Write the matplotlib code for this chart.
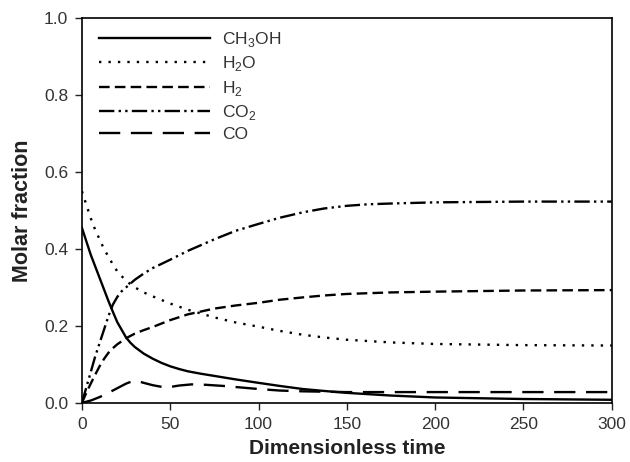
import numpy as np
import matplotlib.pyplot as plt

plt.rcParams["font.family"] = ["Liberation Sans", "DejaVu Sans"]
plt.rcParams["mathtext.fontset"] = "custom"
plt.rcParams["mathtext.rm"] = "Liberation Sans"

# Values
t_ch3oh = [0, 2.5, 5, 7.5, 10, 12.5, 15, 17.5, 20, 22.5, 25, 27.5, 30, 35, 40, 45,
           50, 55, 60, 67, 75, 87, 100, 112, 125, 137, 150, 175, 200, 225, 250,
           275, 300]
ch3oh = [0.455, 0.42, 0.385, 0.355, 0.325, 0.295, 0.265, 0.237, 0.21, 0.19, 0.17,
         0.156, 0.145, 0.128, 0.115, 0.104, 0.095, 0.088, 0.082, 0.076, 0.07,
         0.061, 0.052, 0.044, 0.036, 0.031, 0.026, 0.019, 0.014, 0.012, 0.010,
         0.009, 0.008]

t_h2o = [0, 2.5, 5, 7.5, 10, 12.5, 15, 17.5, 20, 25, 30, 35, 40, 50, 60, 75, 87,
         100, 112, 125, 137, 150, 175, 200, 250, 300]
h2o = [0.55, 0.515, 0.48, 0.45, 0.425, 0.40, 0.38, 0.36, 0.342, 0.317, 0.30,
       0.287, 0.277, 0.258, 0.242, 0.222, 0.209, 0.198, 0.187, 0.177, 0.17,
       0.164, 0.157, 0.153, 0.150, 0.149]

t_h2 = [0, 2.5, 5, 7.5, 10, 12.5, 15, 17.5, 20, 25, 30, 35, 40, 50, 60, 75, 87,
        100, 112, 125, 137, 150, 175, 200, 250, 300]
h2 = [0.0, 0.026, 0.05, 0.073, 0.095, 0.114, 0.13, 0.142, 0.152, 0.168, 0.18,
      0.189, 0.197, 0.215, 0.23, 0.245, 0.253, 0.26, 0.268, 0.274, 0.279, 0.283,
      0.287, 0.289, 0.292, 0.293]

t_co2 = [0, 2.5, 5, 7.5, 10, 12.5, 15, 17.5, 20, 22.5, 25, 30, 35, 40, 50, 60, 75,
         87, 100, 112, 125, 137, 150, 162, 175, 200, 250, 300]
co2 = [0.0, 0.04, 0.08, 0.12, 0.155, 0.19, 0.225, 0.255, 0.275, 0.29, 0.30, 0.32,
       0.336, 0.35, 0.372, 0.395, 0.425, 0.447, 0.465, 0.481, 0.495, 0.505,
       0.512, 0.516, 0.518, 0.521, 0.523, 0.523]

t_co = [0, 5, 10, 15, 20, 25, 29, 32, 35, 40, 47, 51, 55, 62, 70, 80, 100, 112,
        125, 150, 200, 300]
co = [0.0, 0.006, 0.015, 0.026, 0.038, 0.05, 0.057, 0.056, 0.052, 0.046, 0.040,
      0.042, 0.045, 0.048, 0.047, 0.044, 0.036, 0.032, 0.030, 0.028, 0.028, 0.028]

series = [
    (t_ch3oh, ch3oh, "CH$_3$OH", "-"),
    (t_h2o, h2o, "H$_2$O", (0, (1, 3))),
    (t_h2, h2, "H$_2$", (0, (4.5, 2.2))),
    (t_co2, co2, "CO$_2$", (0, (6.5, 1.8, 1, 1.8, 1, 1.8))),
    (t_co, co, "CO", (0, (9, 4.5))),
]

fig = plt.figure(figsize=(6.3, 4.62), dpi=100)
ax = fig.add_axes([0.130, 0.128, 0.841, 0.833])

for x, y, label, ls in series:
    ax.plot(x, y, color="black", lw=1.7, linestyle=ls, label=label,
            solid_joinstyle="round")

ax.set_xlim(0, 300)
ax.set_ylim(0, 1.0)
ax.set_xticks([0, 50, 100, 150, 200, 250, 300])
ax.set_yticks([0.0, 0.2, 0.4, 0.6, 0.8, 1.0])
ax.set_yticklabels(["0.0", "0.2", "0.4", "0.6", "0.8", "1.0"])
ax.tick_params(direction="out", length=5, width=1, pad=5, labelsize=12.5,
               colors="#222222", labelcolor="#333333")
for sp in ax.spines.values():
    sp.set_linewidth(1.2)

ax.set_xlabel("Dimensionless time", fontsize=15, fontweight="bold",
              color="#222222", labelpad=5)
ax.set_ylabel("Molar fraction", fontsize=15.5, fontweight="bold",
              color="#222222", labelpad=8)

leg = ax.legend(loc="upper left", frameon=False, fontsize=12.5, handlelength=6.4,
                handletextpad=0.65, labelspacing=0.3, borderaxespad=0.3,
                bbox_to_anchor=(0.01, 1.0))
for txt in leg.get_texts():
    txt.set_color("#333333")

fig.savefig("out.png", dpi=100)
